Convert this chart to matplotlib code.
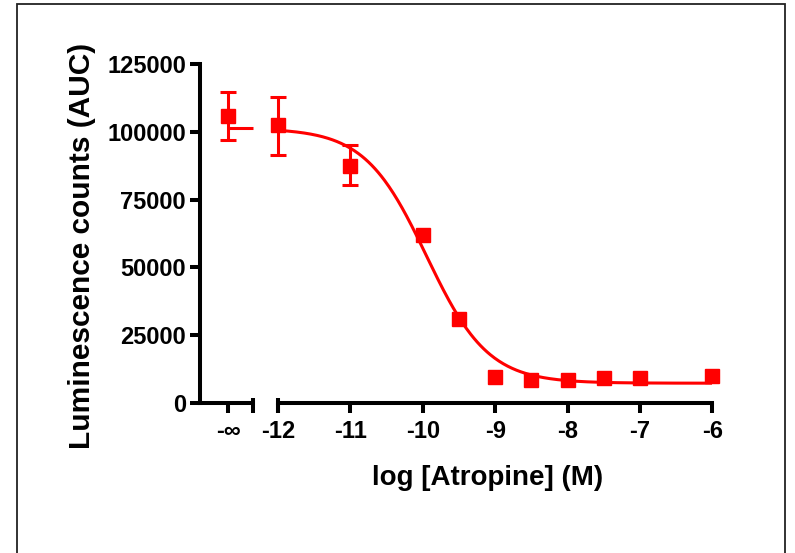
import numpy as np
import matplotlib
matplotlib.use("Agg")
import matplotlib.pyplot as plt
from matplotlib.patches import Rectangle

plt.rcParams['font.family'] = ['Liberation Sans', 'DejaVu Sans']
plt.rcParams['font.weight'] = 'bold'

# ---- data ----
log_conc = [-12, -11, -10, -9.5, -9, -8.5, -8, -7.5, -7, -6]
counts = [102500, 87500, 62000, 31000, 9500, 8500, 8500, 9200, 9300, 10000]
err_low = [11000, 7000, 0, 0, 0, 0, 0, 0, 0, 0]
err_high = [10500, 7500, 0, 0, 0, 0, 0, 0, 0, 0]

zero_value = 106000
zero_err_low = 9000
zero_err_high = 8500

# fitted sigmoidal dose-response parameters
fit_top = 101300
fit_bottom = 7300
fit_logIC50 = -9.95
fit_hill = 1.02

x_ticks = [-12, -11, -10, -9, -8, -7, -6]
x_ticklabels = ['-12', '-11', '-10', '-9', '-8', '-7', '-6']
y_ticks = [0, 25000, 50000, 75000, 100000, 125000]

RED = '#FF0000'

W, H = 795, 553
fig = plt.figure(figsize=(W / 100, H / 100), dpi=100)

def px_rect(x0, y0, x1, y1):
    return [x0 / W, 1 - y1 / H, (x1 - x0) / W, (y1 - y0) / H]

ax_l = fig.add_axes(px_rect(200, 64, 253, 403))
ax_r = fig.add_axes(px_rect(278, 64, 712.4, 403))

LW = 2.9
for ax in (ax_l, ax_r):
    ax.set_ylim(0, 125000)
    ax.spines['top'].set_visible(False)
    ax.spines['right'].set_visible(False)
    ax.spines['bottom'].set_linewidth(LW)
    ax.spines['left'].set_linewidth(LW)
    ax.tick_params(axis='both', length=7, width=LW, labelsize=17, direction='out')
    ax.tick_params(axis='x', pad=5)
    ax.set_facecolor('none')

# left (zero concentration) segment
ax_l.set_xlim(0, 1)
xinf = 0.53
ax_l.set_xticks([xinf])
ax_l.set_xticklabels(['-∞'])
ax_l.set_yticks(y_ticks)
ax_l.set_yticklabels([str(v) for v in y_ticks])
ax_l.tick_params(axis='y', pad=3)
for lbl in ax_l.get_xticklabels() + ax_l.get_yticklabels():
    lbl.set_fontweight('bold')

ax_l.errorbar([xinf], [zero_value], yerr=[[zero_err_low], [zero_err_high]],
              fmt='s', color=RED, ms=9.5, elinewidth=2.2, capsize=6, capthick=2.2,
              clip_on=False, zorder=5)
ax_l.plot([xinf, 1.0], [fit_top, fit_top], color=RED, lw=2.2, clip_on=False,
          solid_capstyle='butt')

# right segment
ax_r.set_xlim(-12, -6)
ax_r.spines['left'].set_visible(False)
ax_r.yaxis.set_visible(False)
ax_r.set_xticks(x_ticks)
ax_r.set_xticklabels(x_ticklabels)
for lbl in ax_r.get_xticklabels():
    lbl.set_fontweight('bold')

xc = np.linspace(-12, -6, 400)
yc = fit_bottom + (fit_top - fit_bottom) / (1 + 10 ** ((xc - fit_logIC50) * fit_hill))
ax_r.plot(xc, yc, color=RED, lw=2.2, zorder=3)

has_err = [i for i in range(len(log_conc)) if err_low[i] > 0 or err_high[i] > 0]
ax_r.errorbar([log_conc[i] for i in has_err], [counts[i] for i in has_err],
              yerr=[[err_low[i] for i in has_err], [err_high[i] for i in has_err]],
              fmt='none', ecolor=RED, elinewidth=2.2, capsize=6, capthick=2.2,
              clip_on=False, zorder=4)
ax_r.plot(log_conc, counts, 's', color=RED, ms=9.5, clip_on=False, zorder=5)

# break markers at ends of the x-axis segments
for ax, xpos in ((ax_l, 1.0), (ax_r, -12)):
    ax.plot([xpos, xpos], [-0.03, 0.015], transform=ax.get_xaxis_transform(),
            color='black', lw=LW, clip_on=False, solid_capstyle='butt')

# axis labels
fig.text(82 / W, 1 - 246 / H, 'Luminescence counts (AUC)', rotation=90,
         ha='center', va='center', fontsize=21.5, fontweight='bold')
fig.text(488 / W, 1 - 478 / H, 'log [Atropine] (M)', ha='center', va='center',
         fontsize=20, fontweight='bold')

# outer frame
fig.patches.append(Rectangle((17 / W, -0.05), (785 - 17) / W, 1.05 - 4 / H,
                             transform=fig.transFigure, fill=False,
                             edgecolor='#222222', lw=1.3))

fig.savefig('out.png', dpi=100)
